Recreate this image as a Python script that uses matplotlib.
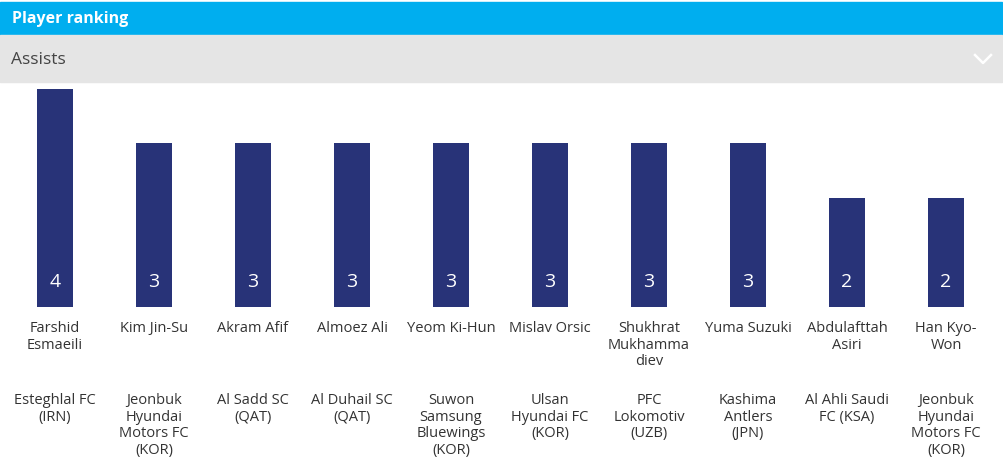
import numpy as np
import matplotlib.pyplot as plt
from matplotlib.patches import Rectangle
from matplotlib.lines import Line2D
from matplotlib.transforms import blended_transform_factory

players = ["Farshid\nEsmaeili", "Kim Jin-Su", "Akram Afif", "Almoez Ali", "Yeom Ki-Hun",
           "Mislav Orsic", "Shukhrat\nMukhamma\ndiev", "Yuma Suzuki", "Abdulafttah\nAsiri",
           "Han Kyo-\nWon"]
teams = ["Esteghlal FC\n(IRN)", "Jeonbuk\nHyundai\nMotors FC\n(KOR)", "Al Sadd SC\n(QAT)",
         "Al Duhail SC\n(QAT)", "Suwon\nSamsung\nBluewings\n(KOR)", "Ulsan\nHyundai FC\n(KOR)",
         "PFC\nLokomotiv\n(UZB)", "Kashima\nAntlers\n(JPN)", "Al Ahli Saudi\nFC (KSA)",
         "Jeonbuk\nHyundai\nMotors FC\n(KOR)"]
assists = [4, 3, 3, 3, 3, 3, 3, 3, 2, 2]

W, H = 1004, 465
plt.rcParams['font.family'] = ['Open Sans', 'DejaVu Sans']
fig = plt.figure(figsize=(W / 100, H / 100), dpi=100)
fig.patch.set_facecolor('white')

# header strips
fig.patches.append(Rectangle((0, 1 - 35 / H), 1002 / W, 33 / H, transform=fig.transFigure,
                             color='#00AEEF', zorder=0))
fig.patches.append(Rectangle((0, 1 - 82 / H), 1002 / W, 47 / H, transform=fig.transFigure,
                             color='#E5E5E5', zorder=0))
fig.text(12 / W, 1 - 19 / H, "Player ranking", color='white', fontsize=11.5, fontweight='bold',
         va='center', ha='left')
fig.text(11 / W, 1 - 60 / H, "Assists", color='#444444', fontsize=12.5, va='center', ha='left')
fig.lines.append(Line2D([975 / W, 983 / W, 991 / W], [1 - 55 / H, 1 - 63 / H, 1 - 55 / H],
                        transform=fig.transFigure, color='white', lw=1.8))

# bars
ax = fig.add_axes([5.5 / W, (H - 307) / H, 990 / W, 218 / H])
x = np.arange(len(assists))
ax.bar(x, assists, width=0.364, color='#283378')
ax.set_xlim(-0.5, 9.5)
ax.set_ylim(0, 4)
ax.axis('off')

tr = blended_transform_factory(ax.transData, fig.transFigure)
for i, v in enumerate(assists):
    ax.text(i, 1 - 282 / H, str(v), transform=tr, ha='center', va='center',
            color='white', fontsize=14)
    ax.text(i, 1 - 321 / H, players[i], transform=tr, ha='center', va='top',
            color='#333333', fontsize=10.5, linespacing=1.15)
    ax.text(i, 1 - 393 / H, teams[i], transform=tr, ha='center', va='top',
            color='#333333', fontsize=10.5, linespacing=1.15)

fig.savefig('out.png', dpi=100)
